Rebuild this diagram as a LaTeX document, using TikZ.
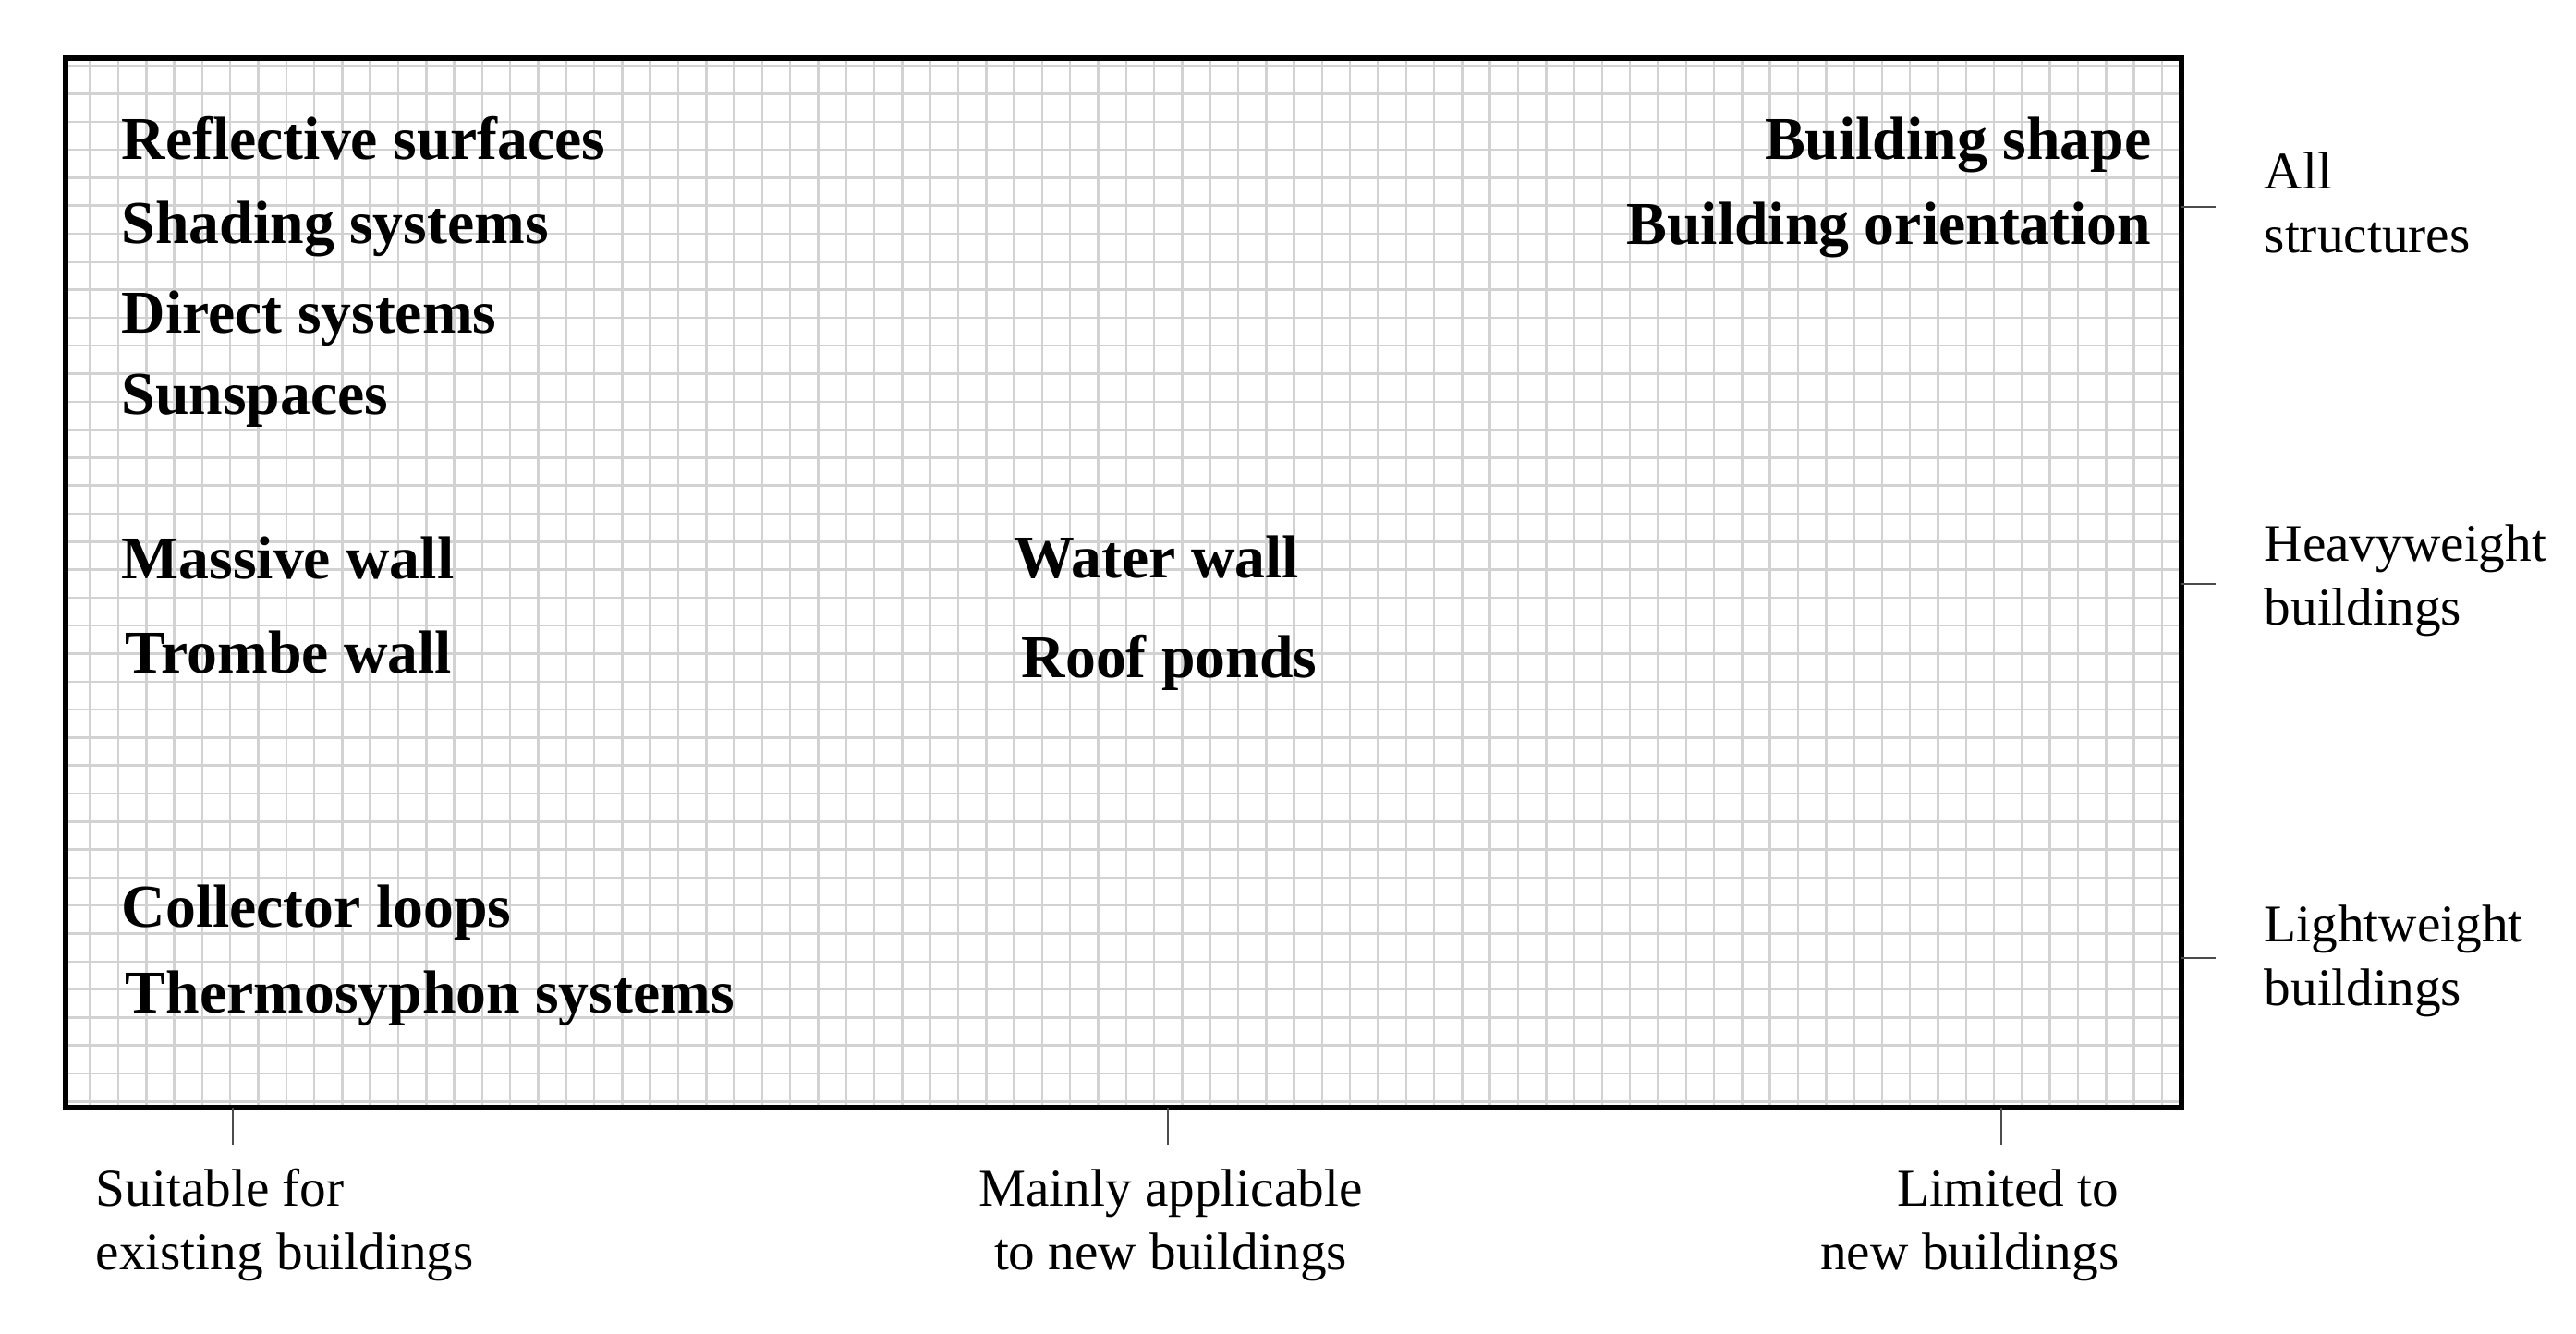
\documentclass[tikz,border=0pt]{standalone}
\usepackage{fontspec}
\setmainfont{Liberation Serif}
\usepackage{xcolor}
\usetikzlibrary{positioning, calc}

\tikzset{
  gridline/.style={gray!35, line width=0.7pt},
  frame/.style={black, line width=1.5pt},
  tickmark/.style={black!70, line width=0.6pt},
  tech/.style={font=\fontsize{18.7pt}{22pt}\selectfont\bfseries, inner sep=0pt},
  axislabel/.style={font=\fontsize{16.3pt}{19.6pt}\selectfont, inner sep=0pt}
}

\begin{document}
\begin{tikzpicture}
\useasboundingbox (0,0) rectangle (27.88,-14.43);
% grid paper
\foreach \i in {3,...,77} {
    \pgfmathsetmacro\x{0.068+0.303*\i}
    \draw[gridline] (\x,-0.63) -- (\x,-11.99);
}
\foreach \j in {2,...,39} {
    \pgfmathsetmacro\y{0.106+0.303*\j}
    \draw[gridline] (0.71,-\y) -- (23.61,-\y);
}
\draw[frame] (0.71,-0.63) rectangle (23.61,-11.99);

% techniques
\node[tech, anchor=base west] (reflect) at (1.31,-1.72) {Reflective surfaces};
\node[tech, anchor=base west] (shading) at (1.31,-2.63) {Shading systems};
\node[tech, anchor=base west] (direct) at (1.31,-3.60) {Direct systems};
\node[tech, anchor=base west] (sunsp) at (1.31,-4.48) {Sunspaces};
\node[tech, anchor=base west] (massive) at (1.31,-6.26) {Massive wall};
\node[tech, anchor=base west] (trombe) at (1.35,-7.28) {Trombe wall};
\node[tech, anchor=base west] (collect) at (1.31,-10.03) {Collector loops};
\node[tech, anchor=base west] (thermo) at (1.35,-10.96) {Thermosyphon systems};
\node[tech, anchor=base west] (water) at (10.97,-6.25) {Water wall};
\node[tech, anchor=base west] (roof) at (11.05,-7.33) {Roof ponds};
\node[tech, anchor=base east] (shape) at (23.29,-1.72) {Building shape};
\node[tech, anchor=base east] (orient) at (23.29,-2.64) {Building orientation};

% right scale
\coordinate (allT) at (23.61,-2.24);
\coordinate (heavyT) at (23.61,-6.32);
\coordinate (lightT) at (23.61,-10.37);
\draw[tickmark] (allT) -- ++(0.37,0);
\draw[tickmark] (heavyT) -- ++(0.37,0);
\draw[tickmark] (lightT) -- ++(0.37,0);
\node[axislabel, anchor=base west, align=left] (allS) at (24.50,-2.73) {All\\structures};
\node[axislabel, anchor=base west, align=left] (heavyS) at (24.50,-6.76) {Heavyweight\\buildings};
\node[axislabel, anchor=base west, align=left] (lightS) at (24.50,-10.88) {Lightweight\\buildings};

% bottom scale
\coordinate (existT) at (2.52,-11.99);
\coordinate (mainT) at (12.64,-11.99);
\coordinate (limitT) at (21.66,-11.99);
\draw[tickmark] (existT) -- ++(0,-0.40);
\draw[tickmark] (mainT) -- ++(0,-0.40);
\draw[tickmark] (limitT) -- ++(0,-0.40);
\node[axislabel, anchor=base west, align=left] (existB) at (1.03,-13.74) {Suitable for\\existing buildings};
\node[axislabel, anchor=base, align=center] (mainB) at (12.67,-13.74) {Mainly applicable\\to new buildings};
\node[axislabel, anchor=base east, align=right] (limitB) at (22.94,-13.74) {Limited to\\new buildings};
\end{tikzpicture}
\end{document}
